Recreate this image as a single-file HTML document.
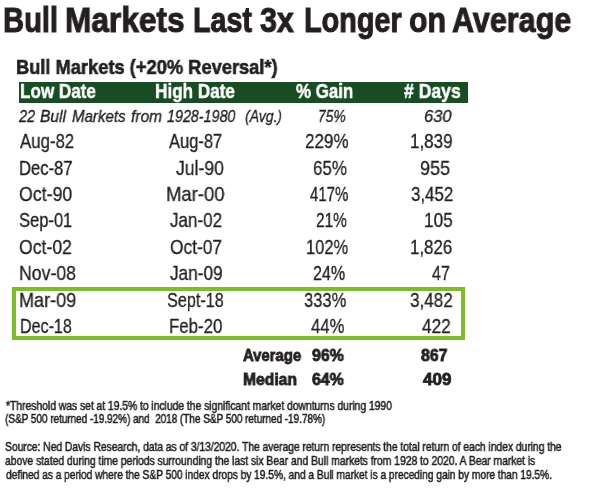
<!DOCTYPE html><html><head><meta charset="utf-8"><style>
html,body{margin:0;padding:0;background:#fff;}
body{width:600px;height:499px;position:relative;overflow:hidden;font-family:"Liberation Sans",sans-serif;color:#231f20;}
.t{position:absolute;white-space:pre;line-height:1;transform-origin:0 0;will-change:transform;}
.t i.bl{display:inline-block;width:0;height:0;vertical-align:baseline;}
.rect{position:absolute;}
</style></head><body>
<div class="rect" style="left:19px;top:82px;width:449px;height:21px;background:#184c22"></div>
<div class="rect" style="left:12px;top:287px;width:445px;height:45px;border:4px solid #7dbe28"></div>
<div class="t" id="e0" style="left:2.56px;top:2.81px;font-size:34.80px;font-weight:bold;font-style:normal;color:#231f20;transform:scaleX(0.8365);-webkit-text-stroke:1.00px #231f20">Bull</div>
<div class="t" id="e1" style="left:64.86px;top:2.81px;font-size:34.80px;font-weight:bold;font-style:normal;color:#231f20;transform:scaleX(0.9091);-webkit-text-stroke:1.00px #231f20">Markets</div>
<div class="t" id="e2" style="left:193.43px;top:2.81px;font-size:34.80px;font-weight:bold;font-style:normal;color:#231f20;transform:scaleX(0.8239);-webkit-text-stroke:1.00px #231f20">Last</div>
<div class="t" id="e3" style="left:259.89px;top:2.81px;font-size:34.80px;font-weight:bold;font-style:normal;color:#231f20;transform:scaleX(0.8763);-webkit-text-stroke:1.00px #231f20">3x</div>
<div class="t" id="e4" style="left:304.19px;top:2.81px;font-size:34.80px;font-weight:bold;font-style:normal;color:#231f20;transform:scaleX(0.8285);-webkit-text-stroke:1.00px #231f20">Longer</div>
<div class="t" id="e5" style="left:408.61px;top:2.81px;font-size:34.80px;font-weight:bold;font-style:normal;color:#231f20;transform:scaleX(0.8706);-webkit-text-stroke:1.00px #231f20">on</div>
<div class="t" id="e6" style="left:451.74px;top:2.81px;font-size:34.80px;font-weight:bold;font-style:normal;color:#231f20;transform:scaleX(0.8764);-webkit-text-stroke:1.00px #231f20">Average</div>
<div class="t" id="e7" style="left:16.48px;top:57.81px;font-size:19.80px;font-weight:bold;font-style:normal;color:#231f20;transform:scaleX(0.9241);-webkit-text-stroke:0.60px #231f20">Bull Markets (+20% Reversal*)</div>
<div class="t" id="e8" style="left:19.86px;top:80.90px;font-size:20.40px;font-weight:bold;font-style:normal;color:#fff;transform:scaleX(0.8376);-webkit-text-stroke:0.50px #fff">Low Date</div>
<div class="t" id="e9" style="left:155.48px;top:80.90px;font-size:20.40px;font-weight:bold;font-style:normal;color:#fff;transform:scaleX(0.8394);-webkit-text-stroke:0.50px #fff">High Date</div>
<div class="t" id="e10" style="left:296.26px;top:80.90px;font-size:20.40px;font-weight:bold;font-style:normal;color:#fff;transform:scaleX(0.8277);-webkit-text-stroke:0.50px #fff">% Gain</div>
<div class="t" id="e11" style="left:403.68px;top:80.90px;font-size:20.40px;font-weight:bold;font-style:normal;color:#fff;transform:scaleX(0.8632);-webkit-text-stroke:0.50px #fff"># Days</div>
<div class="t" id="e12" style="left:19.45px;top:107.60px;font-size:17.00px;font-weight:normal;font-style:italic;color:#231f20;transform:scaleX(0.8484);-webkit-text-stroke:0.35px #231f20">22</div>
<div class="t" id="e13" style="left:39.58px;top:107.60px;font-size:17.00px;font-weight:normal;font-style:italic;color:#231f20;transform:scaleX(0.9188);-webkit-text-stroke:0.35px #231f20">Bull</div>
<div class="t" id="e14" style="left:72.04px;top:107.60px;font-size:17.00px;font-weight:normal;font-style:italic;color:#231f20;transform:scaleX(0.8861);-webkit-text-stroke:0.35px #231f20">Markets</div>
<div class="t" id="e15" style="left:130.93px;top:107.60px;font-size:17.00px;font-weight:normal;font-style:italic;color:#231f20;transform:scaleX(0.9151);-webkit-text-stroke:0.35px #231f20">from</div>
<div class="t" id="e16" style="left:167.14px;top:107.60px;font-size:17.00px;font-weight:normal;font-style:italic;color:#231f20;transform:scaleX(0.8422);-webkit-text-stroke:0.35px #231f20">1928-1980</div>
<div class="t" id="e17" style="left:245.30px;top:107.60px;font-size:17.00px;font-weight:normal;font-style:italic;color:#231f20;transform:scaleX(0.8218);-webkit-text-stroke:0.35px #231f20">(Avg.)</div>
<div class="t" id="e18" style="left:317.79px;top:107.60px;font-size:17.00px;font-weight:normal;font-style:italic;color:#231f20;transform:scaleX(0.8094);-webkit-text-stroke:0.35px #231f20">75%</div>
<div class="t" id="e19" style="left:423.93px;top:107.60px;font-size:17.00px;font-weight:normal;font-style:italic;color:#231f20;transform:scaleX(0.9679);-webkit-text-stroke:0.35px #231f20">630</div>
<div class="t" id="e20" style="left:19.98px;top:130.72px;font-size:20.20px;font-weight:normal;font-style:normal;color:#231f20;transform:scaleX(0.8323);-webkit-text-stroke:0.30px #231f20">Aug-82</div>
<div class="t" id="e21" style="left:19.20px;top:157.51px;font-size:20.20px;font-weight:normal;font-style:normal;color:#231f20;transform:scaleX(0.8238);-webkit-text-stroke:0.30px #231f20">Dec-87</div>
<div class="t" id="e22" style="left:18.84px;top:184.10px;font-size:20.20px;font-weight:normal;font-style:normal;color:#231f20;transform:scaleX(0.8793);-webkit-text-stroke:0.30px #231f20">Oct-90</div>
<div class="t" id="e23" style="left:19.20px;top:210.41px;font-size:20.20px;font-weight:normal;font-style:normal;color:#231f20;transform:scaleX(0.8185);-webkit-text-stroke:0.30px #231f20">Sep-01</div>
<div class="t" id="e24" style="left:19.40px;top:236.60px;font-size:20.20px;font-weight:normal;font-style:normal;color:#231f20;transform:scaleX(0.8729);-webkit-text-stroke:0.30px #231f20">Oct-02</div>
<div class="t" id="e25" style="left:19.45px;top:263.10px;font-size:20.20px;font-weight:normal;font-style:normal;color:#231f20;transform:scaleX(0.8772);-webkit-text-stroke:0.30px #231f20">Nov-08</div>
<div class="t" id="e26" style="left:19.02px;top:289.51px;font-size:20.20px;font-weight:normal;font-style:normal;color:#231f20;transform:scaleX(0.8946);-webkit-text-stroke:0.30px #231f20">Mar-09</div>
<div class="t" id="e27" style="left:19.85px;top:315.60px;font-size:20.20px;font-weight:normal;font-style:normal;color:#231f20;transform:scaleX(0.7977);-webkit-text-stroke:0.30px #231f20">Dec-18</div>
<div class="t" id="e28" style="left:168.98px;top:130.72px;font-size:20.20px;font-weight:normal;font-style:normal;color:#231f20;transform:scaleX(0.8172);-webkit-text-stroke:0.30px #231f20">Aug-87</div>
<div class="t" id="e29" style="left:176.04px;top:157.51px;font-size:20.20px;font-weight:normal;font-style:normal;color:#231f20;transform:scaleX(0.8722);-webkit-text-stroke:0.30px #231f20">Jul-90</div>
<div class="t" id="e30" style="left:165.75px;top:184.10px;font-size:20.20px;font-weight:normal;font-style:normal;color:#231f20;transform:scaleX(0.9152);-webkit-text-stroke:0.30px #231f20">Mar-00</div>
<div class="t" id="e31" style="left:170.09px;top:210.41px;font-size:20.20px;font-weight:normal;font-style:normal;color:#231f20;transform:scaleX(0.8440);-webkit-text-stroke:0.30px #231f20">Jan-02</div>
<div class="t" id="e32" style="left:169.93px;top:236.60px;font-size:20.20px;font-weight:normal;font-style:normal;color:#231f20;transform:scaleX(0.8588);-webkit-text-stroke:0.30px #231f20">Oct-07</div>
<div class="t" id="e33" style="left:170.06px;top:263.10px;font-size:20.20px;font-weight:normal;font-style:normal;color:#231f20;transform:scaleX(0.8533);-webkit-text-stroke:0.30px #231f20">Jan-09</div>
<div class="t" id="e34" style="left:167.21px;top:289.51px;font-size:20.20px;font-weight:normal;font-style:normal;color:#231f20;transform:scaleX(0.8025);-webkit-text-stroke:0.30px #231f20">Sept-18</div>
<div class="t" id="e35" style="left:169.18px;top:315.60px;font-size:20.20px;font-weight:normal;font-style:normal;color:#231f20;transform:scaleX(0.8344);-webkit-text-stroke:0.30px #231f20">Feb-20</div>
<div class="t" id="e36" style="left:305.18px;top:130.72px;font-size:20.20px;font-weight:normal;font-style:normal;color:#231f20;transform:scaleX(0.8430);-webkit-text-stroke:0.30px #231f20">229%</div>
<div class="t" id="e37" style="left:313.16px;top:157.51px;font-size:20.20px;font-weight:normal;font-style:normal;color:#231f20;transform:scaleX(0.8381);-webkit-text-stroke:0.30px #231f20">65%</div>
<div class="t" id="e38" style="left:309.99px;top:184.10px;font-size:20.20px;font-weight:normal;font-style:normal;color:#231f20;transform:scaleX(0.7409);-webkit-text-stroke:0.30px #231f20">417%</div>
<div class="t" id="e39" style="left:315.74px;top:210.41px;font-size:20.20px;font-weight:normal;font-style:normal;color:#231f20;transform:scaleX(0.7607);-webkit-text-stroke:0.30px #231f20">21%</div>
<div class="t" id="e40" style="left:305.94px;top:236.60px;font-size:20.20px;font-weight:normal;font-style:normal;color:#231f20;transform:scaleX(0.8156);-webkit-text-stroke:0.30px #231f20">102%</div>
<div class="t" id="e41" style="left:313.07px;top:263.10px;font-size:20.20px;font-weight:normal;font-style:normal;color:#231f20;transform:scaleX(0.7945);-webkit-text-stroke:0.30px #231f20">24%</div>
<div class="t" id="e42" style="left:304.20px;top:289.51px;font-size:20.20px;font-weight:normal;font-style:normal;color:#231f20;transform:scaleX(0.8182);-webkit-text-stroke:0.30px #231f20">333%</div>
<div class="t" id="e43" style="left:311.30px;top:315.60px;font-size:20.20px;font-weight:normal;font-style:normal;color:#231f20;transform:scaleX(0.8262);-webkit-text-stroke:0.30px #231f20">44%</div>
<div class="t" id="e44" style="left:409.91px;top:130.72px;font-size:20.20px;font-weight:normal;font-style:normal;color:#231f20;transform:scaleX(0.8432);-webkit-text-stroke:0.30px #231f20">1,839</div>
<div class="t" id="e45" style="left:420.34px;top:157.51px;font-size:20.20px;font-weight:normal;font-style:normal;color:#231f20;transform:scaleX(0.8927);-webkit-text-stroke:0.30px #231f20">955</div>
<div class="t" id="e46" style="left:411.39px;top:184.10px;font-size:20.20px;font-weight:normal;font-style:normal;color:#231f20;transform:scaleX(0.8372);-webkit-text-stroke:0.30px #231f20">3,452</div>
<div class="t" id="e47" style="left:423.90px;top:210.41px;font-size:20.20px;font-weight:normal;font-style:normal;color:#231f20;transform:scaleX(0.8526);-webkit-text-stroke:0.30px #231f20">105</div>
<div class="t" id="e48" style="left:410.39px;top:236.60px;font-size:20.20px;font-weight:normal;font-style:normal;color:#231f20;transform:scaleX(0.8371);-webkit-text-stroke:0.30px #231f20">1,826</div>
<div class="t" id="e49" style="left:432.10px;top:263.10px;font-size:20.20px;font-weight:normal;font-style:normal;color:#231f20;transform:scaleX(0.7944);-webkit-text-stroke:0.30px #231f20">47</div>
<div class="t" id="e50" style="left:410.26px;top:289.51px;font-size:20.20px;font-weight:normal;font-style:normal;color:#231f20;transform:scaleX(0.8469);-webkit-text-stroke:0.30px #231f20">3,482</div>
<div class="t" id="e51" style="left:422.31px;top:315.60px;font-size:20.20px;font-weight:normal;font-style:normal;color:#231f20;transform:scaleX(0.8526);-webkit-text-stroke:0.30px #231f20">422</div>
<div class="t" id="e52" style="left:242.65px;top:347.60px;font-size:16.60px;font-weight:bold;font-style:normal;color:#231f20;transform:scaleX(0.8962);-webkit-text-stroke:0.80px #231f20">Average</div>
<div class="t" id="e53" style="left:311.75px;top:347.60px;font-size:16.60px;font-weight:bold;font-style:normal;color:#231f20;transform:scaleX(0.9565);-webkit-text-stroke:0.80px #231f20">96%</div>
<div class="t" id="e54" style="left:421.42px;top:347.60px;font-size:16.60px;font-weight:bold;font-style:normal;color:#231f20;transform:scaleX(0.9528);-webkit-text-stroke:0.80px #231f20">867</div>
<div class="t" id="e55" style="left:242.51px;top:371.60px;font-size:16.60px;font-weight:bold;font-style:normal;color:#231f20;transform:scaleX(0.9442);-webkit-text-stroke:0.80px #231f20">Median</div>
<div class="t" id="e56" style="left:311.74px;top:371.60px;font-size:16.60px;font-weight:bold;font-style:normal;color:#231f20;transform:scaleX(0.9550);-webkit-text-stroke:0.80px #231f20">64%</div>
<div class="t" id="e57" style="left:422.56px;top:371.60px;font-size:16.60px;font-weight:bold;font-style:normal;color:#231f20;transform:scaleX(1.0270);-webkit-text-stroke:0.80px #231f20">409</div>
<div class="t" id="e58" style="left:5.94px;top:399.51px;font-size:11.99px;font-weight:normal;font-style:normal;color:#231f20;transform:scaleX(0.8755);-webkit-text-stroke:0.50px #231f20;letter-spacing:-0.10px">*Threshold was set at 19.5% to include the significant market downturns during 1990</div>
<div class="t" id="e59" style="left:4.95px;top:412.51px;font-size:12.35px;font-weight:normal;font-style:normal;color:#231f20;transform:scaleX(0.8191);-webkit-text-stroke:0.50px #231f20;letter-spacing:-0.10px">(S&amp;P 500 returned -19.92%) and  2018 (The S&amp;P 500 returned -19.78%)</div>
<div class="t" id="e60" style="left:4.66px;top:440.76px;font-size:11.99px;font-weight:normal;font-style:normal;color:#231f20;transform:scaleX(0.8713);-webkit-text-stroke:0.50px #231f20;letter-spacing:-0.10px">Source: Ned Davis Research, data as of 3/13/2020. The average return represents the total return of each index during the</div>
<div class="t" id="e61" style="left:5.17px;top:454.51px;font-size:12.35px;font-weight:normal;font-style:normal;color:#231f20;transform:scaleX(0.8509);-webkit-text-stroke:0.50px #231f20;letter-spacing:-0.10px">above stated during time periods surrounding the last six Bear and Bull markets from 1928 to 2020. A Bear market is</div>
<div class="t" id="e62" style="left:5.61px;top:468.75px;font-size:12.72px;font-weight:normal;font-style:normal;color:#231f20;transform:scaleX(0.8119);-webkit-text-stroke:0.50px #231f20;letter-spacing:-0.10px">defined as a period where the S&amp;P 500 index drops by 19.5%, and a Bull market is a preceding gain by more than 19.5%.</div>
</body></html>
